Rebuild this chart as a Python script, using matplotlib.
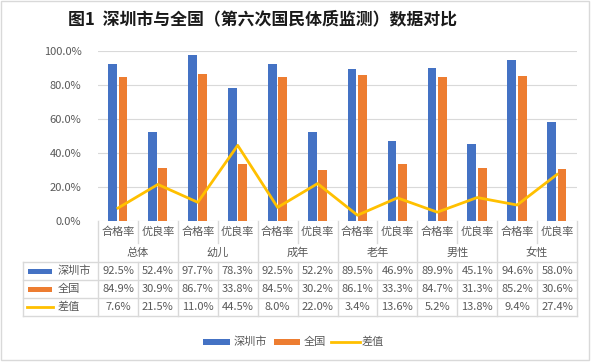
import matplotlib
matplotlib.use("Agg")
import matplotlib.pyplot as plt
from matplotlib.patches import Rectangle
from matplotlib.lines import Line2D

plt.rcParams['font.family'] = ['Noto Sans CJK SC', 'DejaVu Sans']

groups = ["总体", "幼儿", "成年", "老年", "男性", "女性"]
subcats = ["合格率", "优良率"]
shenzhen = [92.5, 52.4, 97.7, 78.3, 92.5, 52.2, 89.5, 46.9, 89.9, 45.1, 94.6, 58.0]
national = [84.9, 30.9, 86.7, 33.8, 84.5, 30.2, 86.1, 33.3, 84.7, 31.3, 85.2, 30.6]
diff = [7.6, 21.5, 11.0, 44.5, 8.0, 22.0, 3.4, 13.6, 5.2, 13.8, 9.4, 27.4]
series_names = ["深圳市", "全国", "差值"]
title = "图1  深圳市与全国（第六次国民体质监测）数据对比"

BLUE = "#4472C4"
ORANGE = "#ED7D31"
GOLD = "#FFC000"
GRID = "#D9D9D9"
TXT = "#595959"

W, H = 591, 363
fig = plt.figure(figsize=(W / 100, H / 100), dpi=100)

def fx(px):
    return px / W

def fy(py):
    return 1 - py / H

L, R, T, B = 98, 577, 51, 221
ax = fig.add_axes([fx(L), fy(B), fx(R) - fx(L), fy(T) - fy(B)])
n = len(shenzhen)
xs = list(range(n))
bw = 0.22
ax.bar([x - 0.135 for x in xs], shenzhen, width=bw, color=BLUE, zorder=2)
ax.bar([x + 0.125 for x in xs], national, width=bw, color=ORANGE, zorder=2)
ax.plot(xs, diff, color=GOLD, lw=2.0, zorder=3)
ax.set_xlim(-0.5, n - 0.5)
ax.set_ylim(0, 100)
ax.set_yticks([0, 20, 40, 60, 80, 100])
ax.set_yticklabels([f"{v:.1f}%" for v in [0, 20, 40, 60, 80, 100]], color=TXT, fontsize=8)
ax.tick_params(axis='y', length=0, pad=12)
ax.set_xticks([])
for s in ax.spines.values():
    s.set_visible(False)
ax.yaxis.grid(True, color=GRID, lw=0.8, zorder=0)
ax.set_axisbelow(True)

# title
fig.text(fx(262), fy(19), title, ha='center', va='center', fontsize=12.2,
         fontweight='bold', color='#1a1a1a')

# outer border
fig.add_artist(Rectangle((fx(1), fy(360)), fx(589) - fx(1), fy(1) - fy(360),
                         transform=fig.transFigure, fill=False, ec=GRID, lw=1))

# data table
cw = (R - L) / n
rows_y = [221, 243, 262, 280, 298, 316]
lc = dict(color=GRID, lw=1, transform=fig.transFigure)

def hline(x0, x1, y):
    fig.add_artist(Line2D([fx(x0), fx(x1)], [fy(y), fy(y)], **lc))

def vline(x, y0, y1):
    fig.add_artist(Line2D([fx(x), fx(x)], [fy(y0), fy(y1)], **lc))

for i in range(n + 1):
    x = L + i * cw
    if i % 2 == 0:
        vline(x, 221, 316)
    else:
        vline(x, 221, 243)
        vline(x, 262, 316)
vline(23, 262, 316)
for y in [262, 280, 298, 316]:
    hline(23, R, y)

for i in range(n):
    cx = L + (i + 0.5) * cw
    fig.text(fx(cx), fy(232), subcats[i % 2], ha='center', va='center',
             fontsize=8, color=TXT)
for g, name in enumerate(groups):
    cx = L + (2 * g + 1) * cw
    fig.text(fx(cx), fy(253), name, ha='center', va='center', fontsize=8, color=TXT)

table_rows = [shenzhen, national, diff]
for r, vals in enumerate(table_rows):
    cy = (rows_y[2 + r] + rows_y[3 + r]) / 2
    for i, v in enumerate(vals):
        cx = L + (i + 0.5) * cw
        fig.text(fx(cx), fy(cy), f"{v:.1f}%", ha='center', va='center',
                 fontsize=8, color=TXT)
    fig.text(fx(58), fy(cy), series_names[r], ha='left', va='center',
             fontsize=8, color=TXT)
    if r < 2:
        fig.add_artist(Rectangle((fx(28), fy(cy + 2.5)), fx(52) - fx(28), fy(cy - 2.5) - fy(cy + 2.5),
                                 transform=fig.transFigure, color=[BLUE, ORANGE][r], lw=0))
    else:
        fig.add_artist(Line2D([fx(27), fx(53)], [fy(cy), fy(cy)], color=GOLD, lw=2,
                              transform=fig.transFigure))

# bottom legend
ly = 342
fig.add_artist(Rectangle((fx(203), fy(ly + 3)), fx(230) - fx(203), fy(ly - 3) - fy(ly + 3),
                         transform=fig.transFigure, color=BLUE, lw=0))
fig.text(fx(234), fy(ly), series_names[0], ha='left', va='center', fontsize=8, color=TXT)
fig.add_artist(Rectangle((fx(274), fy(ly + 3)), fx(300) - fx(274), fy(ly - 3) - fy(ly + 3),
                         transform=fig.transFigure, color=ORANGE, lw=0))
fig.text(fx(304), fy(ly), series_names[1], ha='left', va='center', fontsize=8, color=TXT)
fig.add_artist(Line2D([fx(331), fx(360)], [fy(ly), fy(ly)], color=GOLD, lw=2,
                      transform=fig.transFigure))
fig.text(fx(362), fy(ly), series_names[2], ha='left', va='center', fontsize=8, color=TXT)

fig.savefig("out.png", dpi=100)
